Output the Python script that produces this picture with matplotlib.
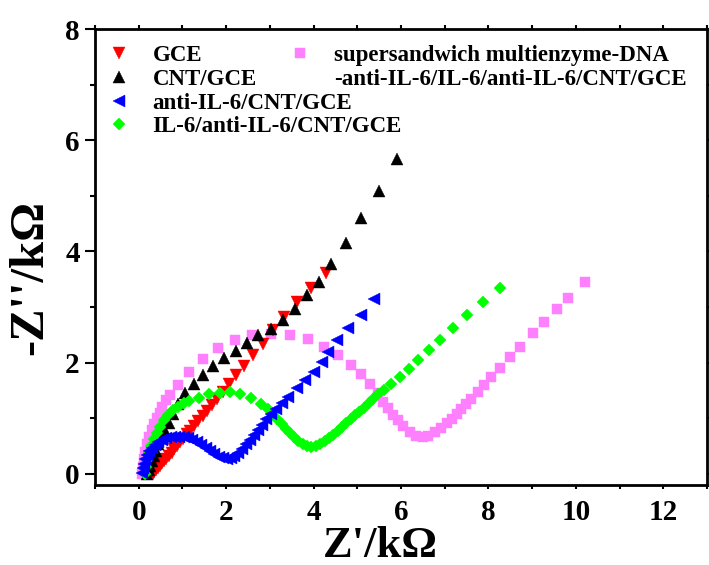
import matplotlib
matplotlib.use("Agg")
import matplotlib.pyplot as plt
from matplotlib.lines import Line2D
from matplotlib.ticker import MultipleLocator

# Datos (Z' y -Z'' en kΩ)
gce_x = [0.33, 0.36, 0.40, 0.44, 0.48, 0.53, 0.58, 0.63, 0.69, 0.75, 0.81, 0.88,
         0.95, 1.02, 1.10, 1.18, 1.27, 1.36, 1.46, 1.56, 1.67, 1.79, 1.92, 2.06,
         2.22, 2.41, 2.62, 2.84, 3.08, 3.33, 3.62, 3.94, 4.28]
gce_y = [0.00, 0.03, 0.07, 0.11, 0.15, 0.19, 0.23, 0.27, 0.32, 0.38, 0.44, 0.50,
         0.57, 0.63, 0.71, 0.78, 0.86, 0.95, 1.04, 1.13, 1.24, 1.35, 1.48, 1.61,
         1.77, 1.94, 2.13, 2.34, 2.58, 2.82, 3.09, 3.35, 3.62]

cnt_x = [0.20, 0.23, 0.26, 0.30, 0.34, 0.39, 0.45, 0.52, 0.60, 0.69, 0.79, 0.91,
         1.07, 1.26, 1.46, 1.71, 1.96, 2.22, 2.47, 2.74, 3.03, 3.29, 3.58, 3.84,
         4.12, 4.41, 4.74, 5.08, 5.49, 5.91]
cnt_y = [0.00, 0.07, 0.15, 0.23, 0.32, 0.42, 0.53, 0.65, 0.78, 0.92, 1.07, 1.25,
         1.45, 1.62, 1.77, 1.94, 2.08, 2.21, 2.35, 2.49, 2.61, 2.77, 2.97, 3.21,
         3.45, 3.78, 4.15, 4.61, 5.09, 5.67]

anti_x = [0.08, 0.10, 0.12, 0.15, 0.19, 0.24, 0.30, 0.37, 0.45, 0.54, 0.63, 0.73,
          0.83, 0.93, 1.03, 1.13, 1.23, 1.33, 1.43, 1.53, 1.63, 1.73, 1.83, 1.92,
          2.01, 2.10, 2.19, 2.28, 2.37, 2.46, 2.55, 2.64, 2.73, 2.82, 2.92, 3.02,
          3.13, 3.27, 3.42, 3.61, 3.81, 4.00, 4.19, 4.34, 4.53, 4.79, 5.08, 5.38]
anti_y = [0.02, 0.10, 0.18, 0.26, 0.34, 0.41, 0.47, 0.52, 0.57, 0.61, 0.64, 0.66,
          0.67, 0.67, 0.66, 0.64, 0.61, 0.57, 0.52, 0.47, 0.41, 0.36, 0.31, 0.28,
          0.26, 0.28, 0.32, 0.38, 0.45, 0.53, 0.61, 0.70, 0.79, 0.88, 0.98, 1.07,
          1.16, 1.27, 1.39, 1.54, 1.69, 1.84, 2.02, 2.20, 2.41, 2.62, 2.86, 3.15]

il6_x = [0.14, 0.16, 0.19, 0.23, 0.28, 0.34, 0.41, 0.49, 0.58, 0.68, 0.79, 0.91,
         1.03, 1.14, 1.37, 1.61, 1.85, 2.09, 2.32, 2.57, 2.80, 2.95, 3.06, 3.17,
         3.27, 3.37, 3.46, 3.55, 3.65, 3.75, 3.85, 3.95, 4.05, 4.15, 4.25, 4.35,
         4.45, 4.55, 4.65, 4.75, 4.85, 4.95, 5.05, 5.15, 5.26, 5.37, 5.48, 5.60,
         5.78, 5.97, 6.18, 6.39, 6.64, 6.89, 7.20, 7.52, 7.88, 8.27]
il6_y = [0.00, 0.12, 0.25, 0.38, 0.50, 0.62, 0.74, 0.85, 0.96, 1.06, 1.14, 1.21,
         1.27, 1.31, 1.37, 1.44, 1.46, 1.47, 1.44, 1.36, 1.26, 1.17, 1.08, 0.99,
         0.90, 0.81, 0.73, 0.66, 0.60, 0.54, 0.50, 0.48, 0.50, 0.54, 0.59, 0.64,
         0.70, 0.77, 0.84, 0.91, 0.98, 1.05, 1.12, 1.19, 1.27, 1.35, 1.43, 1.51,
         1.62, 1.75, 1.88, 2.04, 2.22, 2.40, 2.62, 2.85, 3.09, 3.35]

sand_x = [0.08, 0.10, 0.12, 0.15, 0.19, 0.24, 0.30, 0.36, 0.42, 0.48, 0.53, 0.62,
          0.72, 0.90, 1.16, 1.48, 1.81, 2.21, 2.59, 3.03, 3.45, 3.87, 4.24, 4.57,
          4.85, 5.08, 5.29, 5.48, 5.59, 5.71, 5.82, 5.94, 6.05, 6.20, 6.35, 6.50,
          6.62, 6.77, 6.92, 7.05, 7.17, 7.28, 7.38, 7.48, 7.59, 7.75, 7.90, 8.07,
          8.27, 8.49, 8.73, 9.01, 9.28, 9.57, 9.82, 10.20]
sand_y = [0.00, 0.13, 0.26, 0.40, 0.53, 0.66, 0.79, 0.90, 1.00, 1.10, 1.21, 1.32,
          1.42, 1.60, 1.83, 2.07, 2.26, 2.41, 2.50, 2.52, 2.50, 2.43, 2.29, 2.14,
          1.96, 1.79, 1.62, 1.45, 1.30, 1.18, 1.06, 0.96, 0.86, 0.76, 0.69, 0.66,
          0.69, 0.75, 0.83, 0.91, 0.99, 1.07, 1.16, 1.25, 1.35, 1.47, 1.60, 1.74,
          1.90, 2.10, 2.29, 2.54, 2.73, 2.97, 3.17, 3.45]

etiquetas = ["GCE", "CNT/GCE", "anti-IL-6/CNT/GCE", "IL-6/anti-IL-6/CNT/GCE"]
etiquetas_sandwich = ["supersandwich multienzyme-DNA",
                      "-anti-IL-6/IL-6/anti-IL-6/CNT/GCE"]
x_ticks = [0, 2, 4, 6, 8, 10, 12]
y_ticks = [0, 2, 4, 6, 8]


def serie(ax, x: list, y: list, marcador: str, color: str, tam: float):
    """ Dibuja una serie de puntos sin línea """
    linea, = ax.plot(x, y, linestyle='none', marker=marcador, markersize=tam,
                     color=color, markeredgecolor=color, markeredgewidth=0.3)
    return linea


def dibujar_nyquist() -> None:
    """ Diagrama de Nyquist de los cinco electrodos """
    plt.rcParams['font.family'] = ['Liberation Serif', 'DejaVu Serif']
    plt.rcParams['font.weight'] = 'bold'
    fig = plt.figure(figsize=(7.09, 5.65), dpi=100)
    ax = fig.add_axes([95 / 709, 1 - 485 / 565, 612 / 709, 456 / 565])

    # Orden de dibujo: rosa debajo, azul encima
    h_sand = serie(ax, sand_x, sand_y, 's', '#ff80ff', 6.5)
    h_gce = serie(ax, gce_x, gce_y, 'v', '#ff0000', 8)
    h_cnt = serie(ax, cnt_x, cnt_y, '^', '#000000', 8)
    h_il6 = serie(ax, il6_x, il6_y, 'D', '#00ff00', 6)
    h_anti = serie(ax, anti_x, anti_y, '<', '#0000ff', 8)

    ax.set_xlim(-1, 13)
    ax.set_ylim(-0.2, 8)
    ax.set_xticks(x_ticks)
    ax.set_yticks(y_ticks)
    ax.xaxis.set_minor_locator(MultipleLocator(1))
    ax.yaxis.set_minor_locator(MultipleLocator(1))
    for lado in ax.spines.values():
        lado.set_linewidth(2)
    ax.tick_params(which='both', direction='out', top=True, right=True,
                   width=1.5, labelsize=21)
    ax.tick_params(axis='x', which='both', length=3, pad=7)
    ax.tick_params(axis='y', which='major', length=7, pad=4)
    ax.tick_params(axis='y', which='minor', length=3.5)

    ax.set_xlabel("Z'/kΩ", fontsize=32, fontweight='bold')
    ax.xaxis.set_label_coords(0.466, -0.09)
    ax.set_ylabel("-Z''/kΩ", fontsize=35, fontweight='bold')
    ax.yaxis.set_label_coords(-0.07, 0.454)

    # Leyendas: columna izquierda y entrada de dos líneas a la derecha
    estilo = dict(loc='upper left', frameon=False, borderpad=0, borderaxespad=0,
                  handlelength=1.0, handletextpad=0.95, labelspacing=0.12,
                  numpoints=1, prop={'weight': 'bold', 'size': 16.5})
    ley1 = ax.legend([h_gce, h_cnt, h_anti, h_il6], etiquetas,
                     bbox_to_anchor=(0.021, 0.965), **estilo)
    ax.add_artist(ley1)
    vacio = Line2D([], [], linestyle='none')
    ax.legend([h_sand, vacio], etiquetas_sandwich,
              bbox_to_anchor=(0.317, 0.965), **estilo)

    fig.savefig('out.png', dpi=100)


if __name__ == "__main__":
    dibujar_nyquist()
